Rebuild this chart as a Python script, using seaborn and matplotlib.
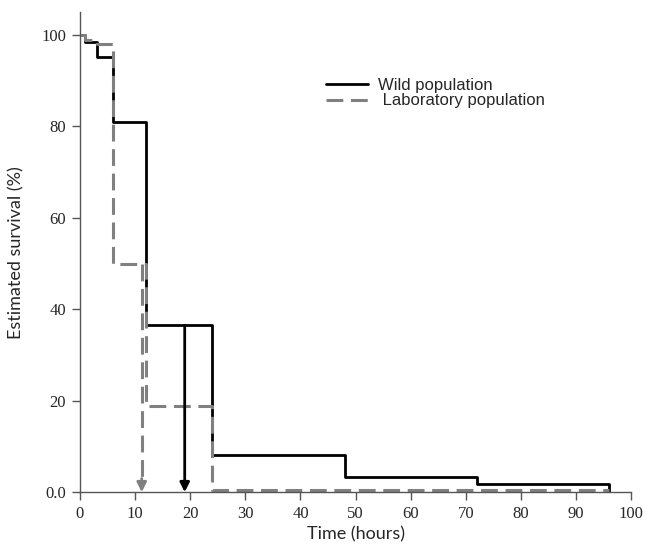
import pandas as pd
import seaborn as sns
import matplotlib
import matplotlib.pyplot as plt

matplotlib.use("Agg")

# Kaplan-Meier steps
wild_time = [0, 1, 3, 6, 12, 24, 48, 72, 96]
wild_surv = [100, 98.5, 95.2, 81, 36.5, 8.1, 3.3, 1.8, 0]
lab_time = [0, 1, 3, 6, 12, 24, 96]
lab_surv = [100, 99, 98, 50, 18.8, 0.5, 0.5]

# median survival times (arrows)
wild_median = 19
wild_median_surv = 36.5
lab_median = 11.2
lab_median_surv = 50

x_ticks = [0, 10, 20, 30, 40, 50, 60, 70, 80, 90, 100]
y_ticks = [0, 20, 40, 60, 80, 100]
y_labels = ["0.0", "20", "40", "60", "80", "100"]

sns.set_style("white")
grey = "#808080"
dash = [5.5, 2.5]

fig = plt.figure(figsize=(6.47, 5.53), dpi=100)
ax = fig.add_axes([0.1236, 0.110, 0.852, 0.868])

sns.lineplot(x=wild_time, y=wild_surv, drawstyle="steps-post", color="black",
             lw=2.0, ax=ax, label="Wild population")
sns.lineplot(x=lab_time, y=lab_surv, drawstyle="steps-post", color=grey,
             lw=2.2, ax=ax, label=" Laboratory population")
ax.lines[1].set_dashes(dash)

# median arrows
ax.annotate("", xy=(wild_median, 0), xytext=(wild_median, wild_median_surv),
            arrowprops=dict(arrowstyle="-|>", color="black", lw=2,
                            mutation_scale=14, shrinkA=0, shrinkB=0))
ax.plot([lab_median, lab_median], [lab_median_surv, 3], color=grey, lw=2.2,
        dashes=dash)
ax.annotate("", xy=(lab_median, 0), xytext=(lab_median, 3),
            arrowprops=dict(arrowstyle="-|>", color=grey, lw=2,
                            mutation_scale=14, shrinkA=0, shrinkB=0))

ax.set_xlim(0, 100)
ax.set_ylim(0, 105)
ax.set_xticks(x_ticks)
ax.set_yticks(y_ticks)
ax.set_yticklabels(y_labels)
for lab in ax.get_xticklabels() + ax.get_yticklabels():
    lab.set_family("Liberation Serif")
    lab.set_fontsize(12)
ax.tick_params(direction="out", length=6, width=1, color="#555555", pad=4,
               bottom=True, left=True)
for s in ["top", "right"]:
    ax.spines[s].set_visible(False)
for s in ["left", "bottom"]:
    ax.spines[s].set_color("#555555")
    ax.spines[s].set_linewidth(1)

ax.set_xlabel("Time (hours)", family="Lato", fontsize=13, labelpad=3)
ax.set_ylabel("Estimated survival (%)", family="Lato", fontsize=13, labelpad=12)

ax.legend(loc="upper left", bbox_to_anchor=(0.42, 0.895), frameon=False,
          prop={"family": "Liberation Sans", "size": 12}, handlelength=2.5,
          labelspacing=0.05, handletextpad=0.6)

plt.savefig("out.png", dpi=100)
